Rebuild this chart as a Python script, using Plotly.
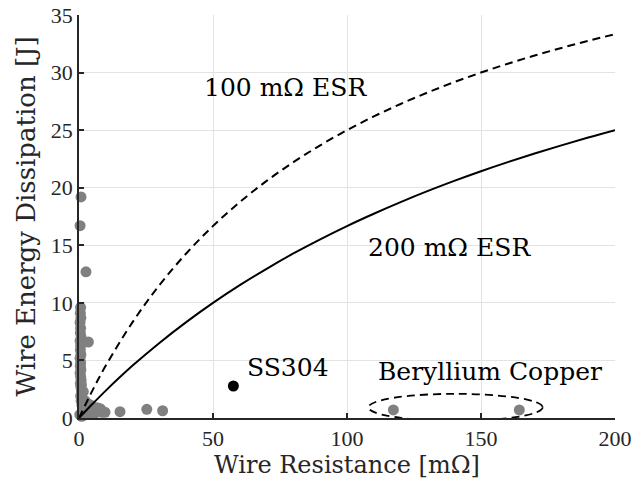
import plotly.graph_objects as go

# Measured wires: resistance [mOhm] and energy dissipated in the wire [J]
wire_r = [0.75, 0.4, 2.6, 3.5,
          0.6, 0.5, 0.7, 0.4, 0.6, 0.5, 0.8, 0.4, 0.6, 0.5, 0.7, 0.4, 0.6, 0.5,
          0.7, 0.4, 0.6, 0.8, 0.5, 0.7, 0.9, 1.0, 0.6, 1.2, 0.8, 1.5, 2.0, 1.1,
          2.6, 3.2, 1.8, 4.0, 5.0, 6.2, 2.5, 7.5, 8.5, 9.7, 3.5, 0.3, 1.0, 5.5,
          1.4, 2.2, 3.0, 4.5, 6.8, 8.0, 1.6, 2.9, 4.2, 0.9, 1.3, 1.9,
          15.3, 25.3, 31.2]
wire_e = [19.2, 16.7, 12.7, 6.6,
          9.6, 9.1, 8.7, 8.3, 7.8, 7.4, 7.0, 6.7, 6.3, 5.9, 5.5, 5.2, 4.8, 4.5,
          4.2, 3.9, 3.6, 3.3, 3.0, 2.7, 2.4, 2.1, 1.9, 1.7, 1.5, 1.3, 1.2, 1.1,
          1.0, 0.9, 0.8, 0.8, 0.7, 0.7, 0.5, 0.6, 0.5, 0.5, 0.3, 0.3, 0.15, 0.3,
          0.9, 1.5, 1.3, 1.1, 0.9, 0.8, 2.3, 0.6, 0.4, 2.9, 0.5, 0.25,
          0.55, 0.75, 0.63]

# Beryllium copper samples
becu_r = [117.3, 164.3]
becu_e = [0.7, 0.7]

# Stainless steel 304
ss_r = [57.6]
ss_e = [2.78]

# Model curves for two capacitor ESR values
curve_r = [0, 5, 10, 20, 30, 40, 50, 60, 70, 80, 90, 100, 110, 120, 130, 140,
           150, 160, 170, 180, 190, 200]
esr100_e = [0, 2.38, 4.55, 8.33, 11.54, 14.29, 16.67, 18.75, 20.59, 22.22,
            23.68, 25.00, 26.19, 27.27, 28.26, 29.17, 30.00, 30.77, 31.48,
            32.14, 32.76, 33.33]
esr200_e = [0, 1.21, 2.38, 4.55, 6.52, 8.33, 10.00, 11.54, 12.96, 14.29,
            15.52, 16.67, 17.74, 18.75, 19.70, 20.59, 21.43, 22.22, 22.97,
            23.68, 24.36, 25.00]

x_ticks = [0, 50, 100, 150, 200]
y_ticks = [0, 5, 10, 15, 20, 25, 30, 35]

TEXT_FONT = "DejaVu Serif"
TICK_FONT = "Liberation Serif"
INK = "#262626"
GRAY = "#808080"

fig = go.Figure()

fig.add_trace(go.Scatter(x=wire_r, y=wire_e, mode="markers",
                         marker=dict(color=GRAY, size=11, line=dict(width=0)),
                         cliponaxis=False, showlegend=False))
fig.add_trace(go.Scatter(x=becu_r, y=becu_e, mode="markers",
                         marker=dict(color=GRAY, size=11, line=dict(width=0)),
                         cliponaxis=False, showlegend=False))
fig.add_trace(go.Scatter(x=ss_r, y=ss_e, mode="markers",
                         marker=dict(color="black", size=11, line=dict(width=0)),
                         showlegend=False))
fig.add_trace(go.Scatter(x=curve_r, y=esr100_e, mode="lines", line_shape="spline",
                         line=dict(color="black", width=2, dash="8px,5px"),
                         showlegend=False))
fig.add_trace(go.Scatter(x=curve_r, y=esr200_e, mode="lines", line_shape="spline",
                         line=dict(color="black", width=2),
                         showlegend=False))

# Dashed ellipse around the beryllium copper samples
fig.add_shape(type="circle", xref="x", yref="y", x0=108, x1=173, y0=-0.25, y1=2.1,
              line=dict(color="black", width=1.8, dash="8px,5px"))

labels = [
    (76.9, 28.7, "100 mΩ ESR", "center"),
    (138.4, 14.85, "200 mΩ ESR", "center"),
    (62.0, 4.4, "SS304", "left"),
    (153.4, 4.0, "Beryllium Copper", "center"),
]
for x, y, t, xa in labels:
    fig.add_annotation(x=x, y=y, text=t, showarrow=False, xanchor=xa,
                       yanchor="middle", font=dict(family=TEXT_FONT, size=25, color="black"))

axis_common = dict(showgrid=True, gridcolor="#e3e3e3", gridwidth=1,
                   showline=True, linecolor=INK, linewidth=1.5,
                   ticks="inside", ticklen=5, tickwidth=1.5, tickcolor=INK,
                   zeroline=False, mirror=False, automargin=False,
                   tickfont=dict(family=TICK_FONT, size=22, color=INK))

fig.update_xaxes(range=[0, 200], tickvals=x_ticks,
                 title_text="Wire Resistance [mΩ]", title_standoff=4,
                 title_font=dict(family=TEXT_FONT, size=24, color=INK), **axis_common)
fig.update_yaxes(range=[0, 35], tickvals=y_ticks,
                 title_text="Wire Energy Dissipation [J]", title_standoff=8,
                 title_font=dict(family=TEXT_FONT, size=26, color=INK), **axis_common)

fig.update_layout(width=634, height=493, plot_bgcolor="white", paper_bgcolor="white",
                  margin=dict(l=79, r=19, t=15, b=75), showlegend=False)

fig.write_html("out.html")
